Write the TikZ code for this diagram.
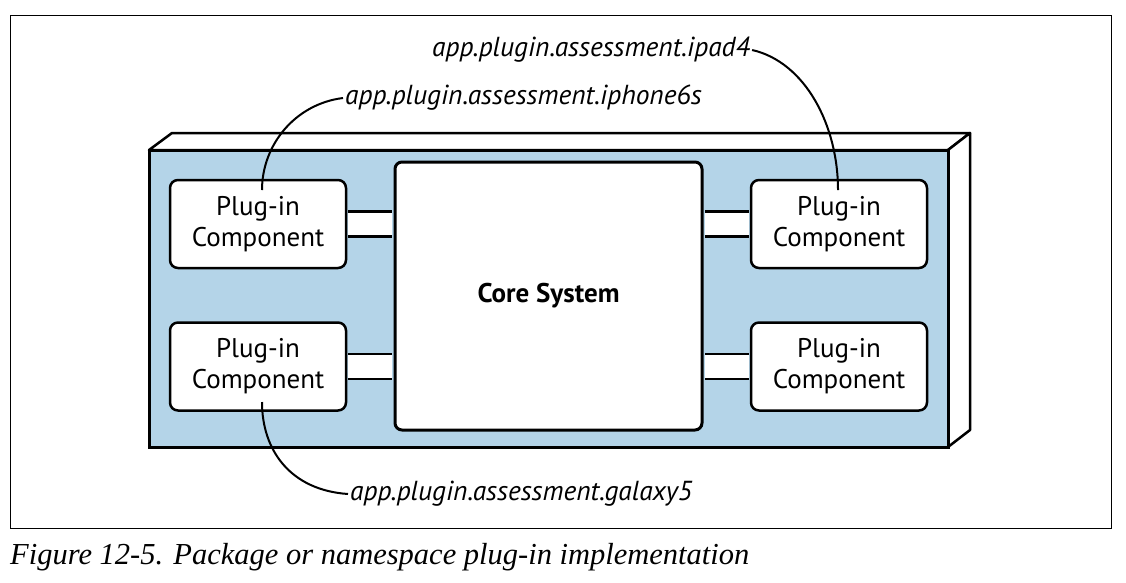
\documentclass[tikz,border=0pt]{standalone}
\usepackage{fontspec}
\setmainfont{Liberation Serif}
\setsansfont{PT Sans}
\definecolor{pkgblue}{RGB}{180,212,232}
\tikzset{
  plugbox/.style={draw=black, fill=white, line width=2.5pt, rounded corners=8pt,
    minimum width=176pt, minimum height=88pt, align=center,
    font=\sffamily\fontsize{27}{31}\selectfont, inner sep=0pt},
  corebox/.style={draw=black, fill=white, line width=3pt, rounded corners=7pt,
    minimum width=307pt, minimum height=268pt, inner sep=0pt,
    font=\sffamily\bfseries\fontsize{27}{31}\selectfont},
  band/.style={draw=black, line width=2.5pt, double=white, double distance=22.5pt,
    shorten <=1.2pt, shorten >=1.5pt},
  pkglabel/.style={font=\sffamily\itshape\fontsize{27.5}{31}\selectfont, inner sep=2pt},
  callout/.style={draw=black, line width=2pt},
}
\begin{document}
\begin{tikzpicture}[x=1pt,y=-1pt]
\useasboundingbox (0,0) rectangle (1126,582);
% outer frame
\draw[line width=1pt] (10,15) rectangle (1111,528);
% package 3D box
\draw[line width=2.5pt, fill=white, line join=round] (149,150) -- (172,133) -- (970,133) -- (948,150) -- cycle;
\draw[line width=2.5pt, fill=white, line join=round] (948,150) -- (970,133) -- (970,430) -- (948,447) -- cycle;
\draw[line width=3pt, fill=pkgblue] (149,150) rectangle (948,447);
% nodes
\node[corebox] (core) at (548.5,296) {Core System};
\node[plugbox] (p1) at (258,224) {Plug-in\\Component};
\node[plugbox] (p2) at (258,366.5) {Plug-in\\Component};
\node[plugbox] (p3) at (839,224) {Plug-in\\Component};
\node[plugbox] (p4) at (839,366.5) {Plug-in\\Component};
% connector bands
\draw[band] (p1.east) -- (core.west |- p1.east);
\draw[band] (p2.east) -- (core.west |- p2.east);
\draw[band] (p3.west) -- (core.east |- p3.west);
\draw[band] (p4.west) -- (core.east |- p4.west);
% labels
\node[pkglabel, anchor=west] (lipad) at (430,50) {app.plugin.assessment.ipad4};
\node[pkglabel, anchor=west] (liph) at (343,98) {app.plugin.assessment.iphone6s};
\node[pkglabel, anchor=west] (lgal) at (348,494) {app.plugin.assessment.galaxy5};
\coordinate (e1) at (262,190);
\coordinate (e3) at (838,190);
\coordinate (e2) at (262,402);
\draw[callout] (liph.west) .. controls (295,104) and (262,145) .. (e1);
\draw[callout] (lipad.east) .. controls (805,62) and (838,125) .. (e3);
\draw[callout] (e2) .. controls (262,450) and (290,490) .. (lgal.west);
% caption
\node[anchor=west, inner sep=0pt, font=\itshape\fontsize{30.5}{34}\selectfont] (cap) at (10,557) {Figure 12-5. Package or namespace plug-in implementation};
\end{tikzpicture}
\end{document}
